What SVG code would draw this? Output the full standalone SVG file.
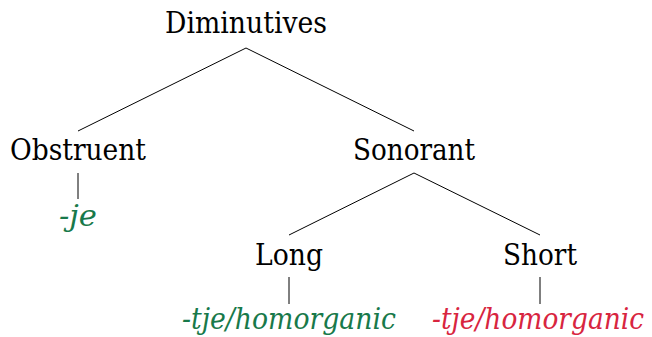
<svg xmlns="http://www.w3.org/2000/svg" width="652" height="337" viewBox="0 0 652 337">
<style>
.t{font-size:30px;text-anchor:middle;fill:#000}
.it{font-style:italic}
.g{fill:#18794a}
.r{fill:#d8253f}
line{stroke:#000;stroke-width:1}
</style>
<rect width="652" height="337" fill="#fff"/>
<g id="connectors">
<line x1="246" y1="48" x2="78" y2="131"/>
<line x1="246" y1="48" x2="414" y2="131"/>
<line x1="78" y1="173" x2="78" y2="199"/>
<line x1="414" y1="173" x2="289" y2="235"/>
<line x1="414" y1="173" x2="540" y2="235"/>
<line x1="289" y1="277" x2="289" y2="304"/>
<line x1="540" y1="277" x2="540" y2="304"/>
</g>
<g font-family="DejaVu Serif, serif">
<g id="diminutives"><text class="t" x="246" y="33" textLength="162" lengthAdjust="spacingAndGlyphs">Diminutives</text></g>
<g id="obstruent"><text class="t" x="78" y="160" textLength="136" lengthAdjust="spacingAndGlyphs">Obstruent</text></g>
<g id="je"><text class="t it g" x="78" y="226" textLength="38" lengthAdjust="spacingAndGlyphs">-je</text></g>
<g id="sonorant"><text class="t" x="414" y="160" textLength="122" lengthAdjust="spacingAndGlyphs">Sonorant</text></g>
<g id="long"><text class="t" x="289" y="265" textLength="68" lengthAdjust="spacingAndGlyphs">Long</text></g>
<g id="short"><text class="t" x="540" y="265" textLength="74" lengthAdjust="spacingAndGlyphs">Short</text></g>
<g id="tje-long"><text class="t it g" x="289" y="329" textLength="214" lengthAdjust="spacingAndGlyphs">-tje/homorganic</text></g>
<g id="tje-short"><text class="t it r" x="538" y="329" textLength="212" lengthAdjust="spacingAndGlyphs">-tje/homorganic</text></g>
</g>
</svg>
